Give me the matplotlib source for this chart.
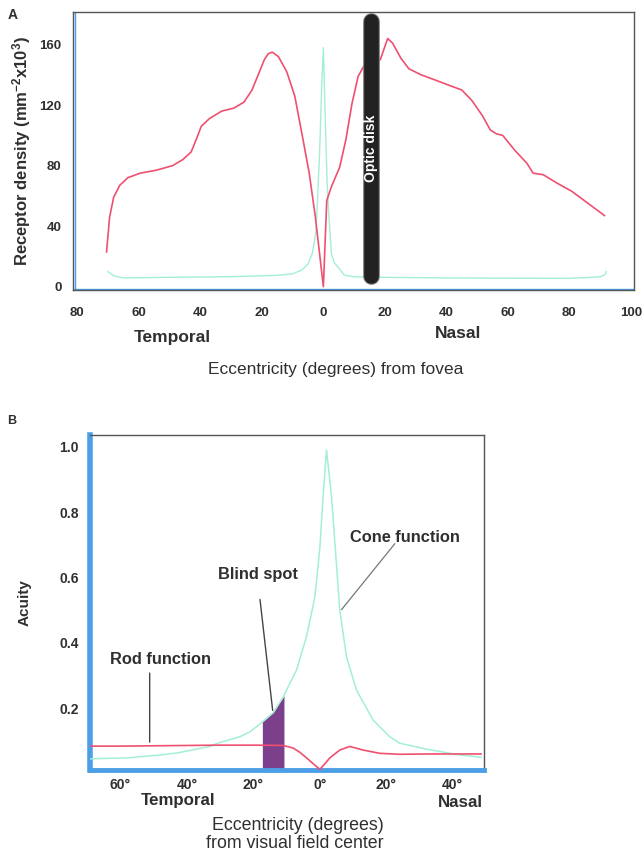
import matplotlib
matplotlib.use("Agg")
import matplotlib.pyplot as plt
import matplotlib.patheffects as pe
import numpy as np

plt.rcParams['font.family'] = ['Liberation Sans', 'DejaVu Sans']
plt.rcParams['mathtext.fontset'] = 'custom'
plt.rcParams['mathtext.rm'] = 'Liberation Sans:bold'
plt.rcParams['mathtext.bf'] = 'Liberation Sans:bold'
plt.rcParams['mathtext.it'] = 'Liberation Sans:bold'

# ---------------- Panel A data (receptor density, x10^3 per mm^2) ----------------
rod_a_x = [-70.5, -69.5, -68.2, -66.2, -63.6, -59.6, -54.3, -49, -45.7, -43, -41, -39.7,
           -37.1, -33.1, -29.1, -25.8, -23.2, -21.2, -19.2, -17.9, -16.6, -14.6, -11.9,
           -9.3, -6.6, -4.6, -2.6, 0, 1.1, 2.6, 5.3, 7.3, 9.3, 11.3, 13.2, 15.5, 18.5,
           20.9, 22.5, 25.2, 27.8, 31.8, 35.8, 41, 45, 48.3, 51.7, 54.3, 56.3, 58.3,
           62.3, 66.2, 68.2, 71.5, 75.5, 80.8, 86.1, 91.4]
rod_a_y = [23, 46, 59, 67, 72, 75, 77, 80, 84, 89, 99, 106,
           111, 116, 118, 122, 130, 140, 150, 154, 155, 152, 142,
           126, 97, 75, 46, 0, 57, 66, 79, 97, 121, 139, 146, 148, 150,
           164, 161, 151, 144, 140, 137, 133, 130, 123, 113, 103.5, 101, 100,
           90, 81.5, 75, 74, 69, 63, 55, 47]

cone_a_x = [-70, -68, -65, -50, -30, -15, -10, -7, -5, -3.6, -2.5, -2.0, -1.2, -0.5, 0,
            0.5, 1.2, 1.6, 2.6, 3.5, 4.7, 6.8, 10, 20, 40, 60, 80, 90, 91.5, 92]
cone_a_y = [10, 7, 5.8, 6.2, 6.6, 7.5, 8.5, 11, 15, 22, 35, 53, 90, 135, 158,
            120, 70, 53, 22, 16, 13, 7.7, 6.5, 6.2, 5.8, 5.6, 5.5, 6.5, 8, 10]

optic_disk_x = 15.4
optic_disk_range = [7, 175.5]

a_xticks = [-80, -60, -40, -20, 0, 20, 40, 60, 80, 100]
a_xticklabels = ['80', '60', '40', '20', '0', '20', '40', '60', '80', '100']
a_yticks = [0, 40, 80, 120, 160]

# ---------------- Panel B data (acuity) ----------------
cone_b_x = [-69, -66, -58, -48, -43, -33, -31, -24, -21, -18, -14, -11, -7, -4, -1.5,
            0, 1, 2, 3.5, 5, 6, 8, 11, 16, 21, 24, 32, 42, 48.5]
cone_b_y = [0.045, 0.046, 0.048, 0.057, 0.063, 0.083, 0.092, 0.113, 0.128, 0.152, 0.187,
            0.235, 0.317, 0.42, 0.54, 0.69, 0.85, 0.99, 0.85, 0.64, 0.5, 0.358, 0.256,
            0.164, 0.113, 0.093, 0.075, 0.057, 0.05]

rod_b_x = [-69, -60, -50, -40, -30, -20, -11, -8, -6, -4, -2, 0, 1.5, 3, 6, 9, 13, 18,
           24, 32, 40, 48.5]
rod_b_y = [0.084, 0.084, 0.085, 0.086, 0.087, 0.087, 0.086, 0.078, 0.065, 0.048, 0.03,
           0.013, 0.03, 0.048, 0.072, 0.083, 0.072, 0.062, 0.059, 0.06, 0.06, 0.06]

blind_spot = [-17.3, -10.8]

b_xticks = [-60, -40, -20, 0, 20, 40]
b_xticklabels = ['60°', '40°', '20°', '0°', '20°', '40°']
b_yticks = [0.2, 0.4, 0.6, 0.8, 1.0]
b_yticklabels = ['0.2', '0.4', '0.6', '0.8', '1.0']

RED = '#ef5070'
GREEN = '#a3efd5'
BLUE = '#4c9fe6'
FRAME = '#555555'
TXT = '#2f2f2f'
PURPLE = '#7b3f8c'

fig = plt.figure(figsize=(6.44, 8.51), dpi=100)

# ================= Panel A =================
axA = fig.add_axes([0.1129, 0.6592, 0.8716, 0.3270])
axA.plot(cone_a_x, cone_a_y, color=GREEN, lw=1.0, zorder=2)
axA.plot(rod_a_x, rod_a_y, color=RED, lw=1.2, zorder=3)
axA.plot([optic_disk_x, optic_disk_x], optic_disk_range, color='#222222', lw=10.5,
         solid_capstyle='round', zorder=5,
         path_effects=[pe.Stroke(linewidth=12, foreground='#777777'), pe.Normal()])
axA.text(optic_disk_x, 91.5, 'Optic disk', rotation=90, color='white', fontsize=10,
         fontweight='bold', ha='center', va='center', zorder=6)
axA.set_xlim(-81.5, 101)
axA.set_ylim(-2.2, 181.7)
axA.axvline(-80.8, color=BLUE, lw=1.0, zorder=1)
axA.axhline(-1.2, color=BLUE, lw=1.0, zorder=1)
axA.set_xticks(a_xticks)
axA.set_xticklabels(a_xticklabels)
axA.set_yticks(a_yticks)
axA.tick_params(length=0, labelsize=9.5, labelcolor=TXT)
axA.tick_params(axis='x', pad=12)
axA.tick_params(axis='y', pad=8)
for lab in axA.get_xticklabels() + axA.get_yticklabels():
    lab.set_fontweight('bold')
for sp in axA.spines.values():
    sp.set_color(FRAME)
    sp.set_linewidth(1.0)
axA.set_ylabel('Receptor density (mm$^{-2}$x10$^{3}$)', fontsize=12,
               fontweight='bold', color=TXT, labelpad=5)
trA = axA.get_xaxis_transform()
axA.text(-49, -0.169, 'Temporal', transform=trA, ha='center', va='center', fontsize=12.5,
         fontweight='bold', color=TXT)
axA.text(43.7, -0.158, 'Nasal', transform=trA, ha='center', va='center', fontsize=12.5,
         fontweight='bold', color=TXT)
axA.text(4, -0.284, 'Eccentricity (degrees) from fovea', transform=trA, ha='center',
         va='center', fontsize=12.5, color=TXT)
fig.text(13 / 644, 1 - 15 / 851, 'A', fontsize=10, fontweight='bold', color=TXT,
         ha='center', va='center')

# ================= Panel B =================
axB = fig.add_axes([0.139, 0.0952, 0.6126, 0.3937])
bx = np.array(cone_b_x)
by = np.array(cone_b_y)
mask = (bx >= blind_spot[0]) & (bx <= blind_spot[1])
fx = np.concatenate([[blind_spot[0]], bx[mask], [blind_spot[1]]])
fy = np.interp(fx, bx, by)
axB.fill_between(fx, 0, fy, color=PURPLE, lw=0, zorder=2)
axB.plot(cone_b_x, cone_b_y, color=GREEN, lw=1.1, zorder=3)
axB.plot(rod_b_x, rod_b_y, color=RED, lw=1.2, zorder=4)
axB.set_xlim(-69.3, 49.4)
axB.set_ylim(0.011, 1.036)
axB.set_xticks(b_xticks)
axB.set_xticklabels(b_xticklabels)
axB.set_yticks(b_yticks)
axB.set_yticklabels(b_yticklabels)
axB.tick_params(length=0, labelsize=10, labelcolor=TXT)
axB.tick_params(axis='x', pad=6)
axB.tick_params(axis='y', pad=7.5)
for lab in axB.get_xticklabels() + axB.get_yticklabels():
    lab.set_fontweight('bold')
for name, sp in axB.spines.items():
    sp.set_color(FRAME)
    sp.set_linewidth(1.0)
axB.spines['left'].set_color(BLUE)
axB.spines['left'].set_linewidth(4.0)
axB.spines['bottom'].set_color(BLUE)
axB.spines['bottom'].set_linewidth(3.5)
axB.set_ylabel('Acuity', fontsize=11, fontweight='bold', color=TXT, labelpad=20)

# annotations
axB.annotate('', xy=(-51.2, 0.088), xytext=(-51.2, 0.316),
             arrowprops=dict(arrowstyle='-', color='#444444', lw=1.0))
axB.text(-48, 0.348, 'Rod function', fontsize=11.8, fontweight='bold', color=TXT,
         ha='center', va='center')
axB.annotate('', xy=(-14.1, 0.185), xytext=(-18.1, 0.541),
             arrowprops=dict(arrowstyle='-', color='#444444', lw=1.0))
axB.text(-18.6, 0.61, 'Blind spot', fontsize=11.8, fontweight='bold', color=TXT,
         ha='center', va='center')
axB.annotate('', xy=(6.0, 0.495), xytext=(23.1, 0.71),
             arrowprops=dict(arrowstyle='-', color='#777777', lw=0.9))
axB.text(25.6, 0.723, 'Cone function', fontsize=11.8, fontweight='bold', color=TXT,
         ha='center', va='center')

trB = axB.get_xaxis_transform()
axB.text(-42.8, -0.0896, 'Temporal', transform=trB, ha='center', va='center',
         fontsize=12.2, fontweight='bold', color=TXT)
axB.text(42.2, -0.0985, 'Nasal', transform=trB, ha='center', va='center',
         fontsize=12.2, fontweight='bold', color=TXT)
axB.text(-6.6, -0.166, 'Eccentricity (degrees)', transform=trB, ha='center',
         va='center', fontsize=12.8, color=TXT)
axB.text(-7.6, -0.219, 'from visual field center', transform=trB, ha='center',
         va='center', fontsize=12.8, color=TXT)
fig.text(12 / 644, 1 - 421 / 851, 'B', fontsize=9, fontweight='bold', color=TXT,
         ha='center', va='center')

fig.savefig('out.png', dpi=100)
